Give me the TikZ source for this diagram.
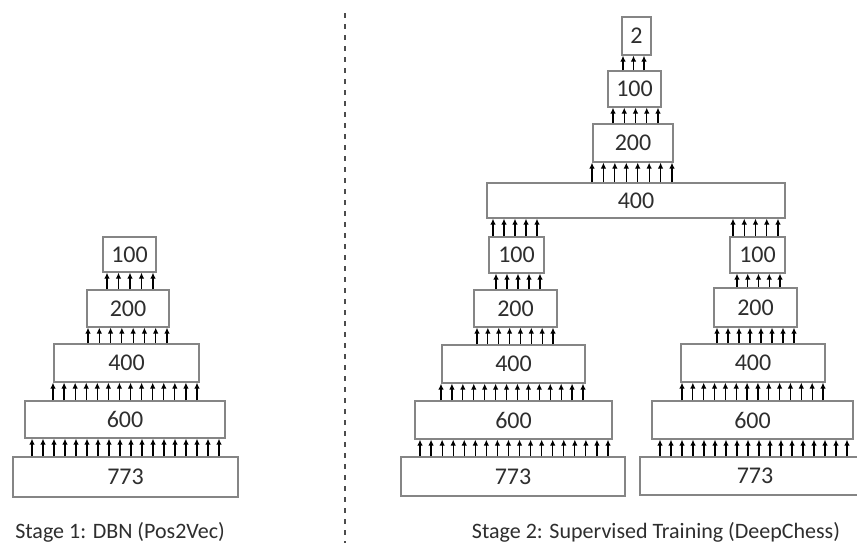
\documentclass[tikz,border=0pt]{standalone}
\usepackage{fontspec}
\setmainfont{Carlito}
\usetikzlibrary{arrows.meta}
\definecolor{boxline}{HTML}{858585}
\definecolor{txt}{HTML}{2E2E2E}
\tikzset{
  layer/.style={draw=boxline, line width=1.2pt, fill=white, inner sep=0pt,
    text=txt, font=\fontsize{24}{26}\selectfont},
  upar/.style={line width=1.2pt, black, -{Latex[length=6pt,width=5.5pt]}},
  stagelabel/.style={text=txt, font=\fontsize{22}{24}\selectfont, inner sep=0pt},
  divider/.style={draw=black!70, line width=1.4pt, dash pattern=on 5pt off 6pt}
}
\newcommand\arrowrow[5]{%
  \pgfmathsetmacro\arrdx{(#4-#3)/(#5-1)}%
  \foreach \i in {1,...,#5}{%
    \pgfmathsetmacro\xx{#3+(\i-1)*\arrdx}%
    \draw[upar] (\xx,0 |- #1.north) -- (\xx,0 |- #2.south);
  }%
}
\begin{document}
\begin{tikzpicture}[x=1pt,y=-1pt]
\fill[white] (0,0) rectangle (857,546);
\useasboundingbox (0,0) rectangle (857,546);

% ---- Stage 1 ----
\node[layer, minimum width=53pt, minimum height=35pt] (L100) at (129.5,254.5) {100};
\node[layer, minimum width=82pt, minimum height=37pt] (L200) at (128,308.5) {200};
\node[layer, minimum width=145pt, minimum height=38pt] (L400) at (126.5,363) {400};
\node[layer, minimum width=200pt, minimum height=37pt] (L600) at (125,419.5) {600};
\node[layer, minimum width=225pt, minimum height=40pt] (L773) at (125.5,477) {773};

\arrowrow{L200}{L100}{107}{153}{5}
\arrowrow{L400}{L200}{88}{167}{8}
\arrowrow{L600}{L400}{53}{197}{14}
\arrowrow{L773}{L600}{32}{219}{18}

\node[stagelabel] (s1) at (120,532) {Stage 1: DBN (Pos2Vec)};

% ---- divider ----
\coordinate (dtop) at (345,13);
\coordinate (dbot) at (345,543);
\draw[divider] (dtop) -- (dbot);

% ---- Stage 2 top ----
\node[layer, minimum width=29pt, minimum height=38pt] (T2) at (636.5,36) {2};
\node[layer, minimum width=53pt, minimum height=36pt] (T100) at (634.5,89) {100};
\node[layer, minimum width=80pt, minimum height=38pt] (T200) at (633,143) {200};
\node[layer, minimum width=298pt, minimum height=35pt] (T400) at (636,200.5) {400};

\arrowrow{T100}{T2}{623}{644}{3}
\arrowrow{T200}{T100}{613}{658}{5}
\arrowrow{T400}{T200}{592}{672}{8}

% left branch
\node[layer, minimum width=55pt, minimum height=36pt] (A100) at (516.5,255) {100};
\node[layer, minimum width=83pt, minimum height=37pt] (A200) at (515.5,308.5) {200};
\node[layer, minimum width=143pt, minimum height=38pt] (A400) at (513.5,364) {400};
\node[layer, minimum width=197pt, minimum height=38pt] (A600) at (513.5,420) {600};
\node[layer, minimum width=224pt, minimum height=39pt] (A773) at (513,476.5) {773};

\arrowrow{A100}{T400}{493}{537}{5}
\arrowrow{A200}{A100}{496}{540}{5}
\arrowrow{A400}{A200}{477}{553}{8}
\arrowrow{A600}{A400}{441}{583}{14}
\arrowrow{A773}{A600}{420}{608}{18}

% right branch
\node[layer, minimum width=55pt, minimum height=36pt] (B100) at (757.5,255) {100};
\node[layer, minimum width=83pt, minimum height=39pt] (B200) at (755.5,307.5) {200};
\node[layer, minimum width=144pt, minimum height=38pt] (B400) at (753,363) {400};
\node[layer, minimum width=201pt, minimum height=38pt] (B600) at (752.5,420) {600};
\node[layer, minimum width=230pt, minimum height=38pt] (B773) at (755,476) {773};

\arrowrow{B100}{T400}{733}{778}{5}
\arrowrow{B200}{B100}{737}{780}{5}
\arrowrow{B400}{B200}{717}{794}{8}
\arrowrow{B600}{B400}{682}{823}{14}
\arrowrow{B773}{B600}{660}{847}{18}

\node[stagelabel] (s2) at (656,532) {Stage 2: Supervised Training (DeepChess)};
\end{tikzpicture}
\end{document}
